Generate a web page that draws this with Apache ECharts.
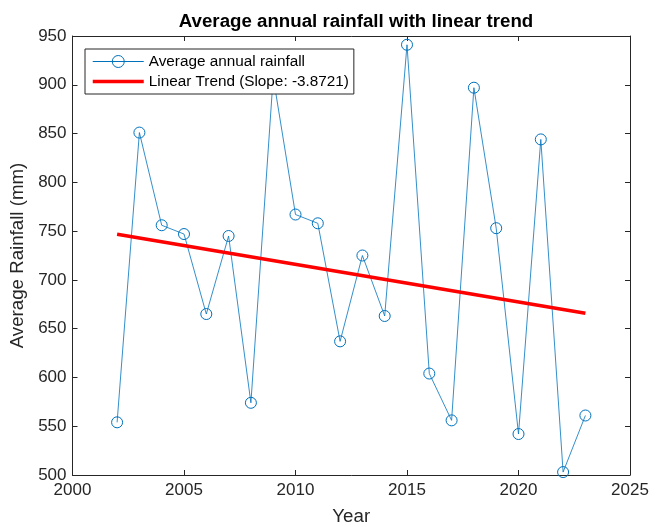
<!DOCTYPE html>
<html>
<head>
<meta charset="utf-8">
<style>
  html, body { margin: 0; padding: 0; background: #fff; }
  #chart { width: 663px; height: 527px; }
</style>
<script src="https://cdn.jsdelivr.net/npm/echarts@6/dist/echarts.min.js"></script>
</head>
<body>
<div id="chart"></div>
<script>
// 年份與年均雨量
const years = [2002, 2003, 2004, 2005, 2006, 2007, 2008, 2009, 2010, 2011, 2012,
  2013, 2014, 2015, 2016, 2017, 2018, 2019, 2020, 2021, 2022, 2023];
const rainfall = [554, 851, 756, 747, 665, 745, 574, 908, 767, 758, 637,
  725, 663, 941, 604, 556, 897, 753, 542, 844, 503, 561];
// 線性趨勢兩端點
const trendYears = [2002, 2023];
const trendValues = [746.7, 665.7];
const xTicks = [2000, 2025, 5];
const yTicks = [500, 950, 50];

const axisColor = '#262626';
const blue = '#0072BD';
const font = 'Liberation Sans, Arial, Helvetica, sans-serif';

const chart = echarts.init(document.getElementById('chart'));

const boxAxis = (pos) => ({
  position: pos,
  axisLine: { show: true, onZero: false, lineStyle: { color: axisColor, width: 1 } },
  axisTick: { show: true, inside: true, length: 5, lineStyle: { color: axisColor } },
  axisLabel: { show: false },
  splitLine: { show: false }
});

// 空心圓標記
const markerStyle = { color: 'rgba(255,255,255,0)', borderColor: blue, borderWidth: 1 };

const option = {
  animation: false,
  backgroundColor: '#fff',
  title: {
    text: 'Average annual rainfall with linear trend',
    left: 351,
    top: 7,
    textAlign: 'center',
    textStyle: { fontFamily: font, fontSize: 18.7, fontWeight: 'bold', color: '#000' }
  },
  legend: {
    orient: 'vertical',
    left: 85,
    top: 49,
    padding: [5, 5, 5, 6],
    itemWidth: 51,
    itemHeight: 15,
    itemGap: 5,
    backgroundColor: '#fff',
    borderColor: axisColor,
    borderWidth: 1,
    borderRadius: 0,
    textStyle: { fontFamily: font, fontSize: 15.3, color: '#000', padding: [0, 0, 0, 0] },
    data: [
      { name: 'Average annual rainfall', itemStyle: markerStyle,
        lineStyle: { color: blue, width: 1 } },
      { name: 'Linear Trend (Slope: -3.8721)', itemStyle: { opacity: 0 },
        lineStyle: { color: '#FF0000', width: 3.5 } }
    ]
  },
  grid: { left: 72.5, right: 33, top: 36, bottom: 52, outerBoundsMode: 'none', containLabel: false },
  xAxis: [
    {
      type: 'value',
      min: xTicks[0], max: xTicks[1], interval: xTicks[2],
      name: 'Year',
      nameLocation: 'middle',
      nameGap: 32,
      nameTextStyle: { fontFamily: font, fontSize: 18.7, color: axisColor },
      axisLine: { show: true, onZero: false, lineStyle: { color: axisColor, width: 1 } },
      axisTick: { show: true, inside: true, length: 5, lineStyle: { color: axisColor } },
      axisLabel: { fontFamily: font, fontSize: 17, color: axisColor, margin: 7, formatter: v => String(v) },
      splitLine: { show: false }
    },
    Object.assign({ type: 'value', min: xTicks[0], max: xTicks[1], interval: xTicks[2] }, boxAxis('top'))
  ],
  yAxis: [
    {
      type: 'value',
      min: yTicks[0], max: yTicks[1], interval: yTicks[2],
      name: 'Average Rainfall (mm)',
      nameLocation: 'middle',
      nameGap: 31,
      nameTextStyle: { fontFamily: font, fontSize: 18.7, color: axisColor },
      axisLine: { show: true, onZero: false, lineStyle: { color: axisColor, width: 1 } },
      axisTick: { show: true, inside: true, length: 5, lineStyle: { color: axisColor } },
      axisLabel: { fontFamily: font, fontSize: 17, color: axisColor, margin: 6 },
      splitLine: { show: false }
    },
    Object.assign({ type: 'value', min: yTicks[0], max: yTicks[1], interval: yTicks[2] }, boxAxis('right'))
  ],
  series: [
    {
      name: 'Average annual rainfall',
      type: 'line',
      data: years.map((y, i) => [y, rainfall[i]]),
      symbol: 'circle',
      symbolSize: 11,
      showAllSymbol: true,
      color: blue,
      lineStyle: { color: blue, width: 0.8 },
      itemStyle: markerStyle,
      z: 2
    },
    {
      name: 'Linear Trend (Slope: -3.8721)',
      type: 'line',
      data: trendYears.map((y, i) => [y, trendValues[i]]),
      symbol: 'none',
      color: '#FF0000',
      lineStyle: { color: '#FF0000', width: 3.5 },
      z: 3
    }
  ]
};

chart.setOption(option);
</script>
</body>
</html>
